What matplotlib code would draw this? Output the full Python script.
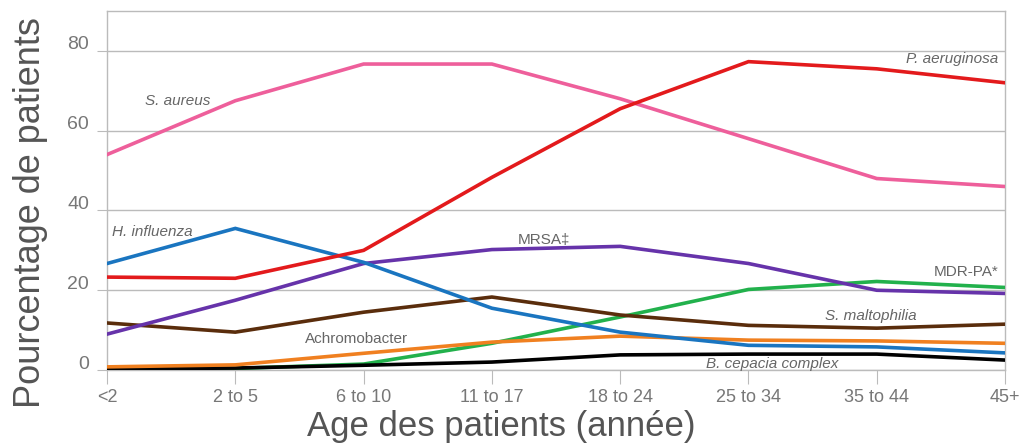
import matplotlib.pyplot as plt
import matplotlib.transforms as mtransforms

plt.rcParams['font.family'] = ['Liberation Sans', 'DejaVu Sans']

# Catégories d'âge
ages = ["<2", "2 to 5", "6 to 10", "11 to 17", "18 to 24", "25 to 34", "35 to 44", "45+"]

# Pourcentages
s_aureus = [54, 67.5, 76.7, 76.7, 68, 58, 48, 46]
p_aeruginosa = [23.3, 23, 30, 48.3, 65.5, 77.3, 75.5, 72]
h_influenza = [26.7, 35.5, 27, 15.5, 9.5, 6.2, 5.8, 4.3]
mrsa = [9, 17.5, 26.7, 30.2, 31, 26.7, 20, 19.2]
mdr_pa = [0.2, 0.4, 1.5, 6.7, 13.3, 20.2, 22.2, 20.7]
s_maltophilia = [11.8, 9.5, 14.5, 18.3, 13.8, 11.2, 10.5, 11.5]
achromobacter = [0.8, 1.3, 4.2, 7, 8.5, 7.5, 7.3, 6.7]
b_cepacia = [0.3, 0.5, 1.2, 2, 3.8, 4, 4, 2.5]

yticks = [0, 20, 40, 60, 80]

series = [
    (mdr_pa, "#22b14c"),
    (b_cepacia, "#000000"),
    (achromobacter, "#f08020"),
    (s_maltophilia, "#5a2d0c"),
    (mrsa, "#6633aa"),
    (h_influenza, "#1a75c0"),
    (s_aureus, "#ee5f9b"),
    (p_aeruginosa, "#e31a1c"),
]

fig = plt.figure(figsize=(10.24, 4.48), dpi=100)
ax = fig.add_axes([0.1045, 0.174, 0.877, 0.8015])

x = list(range(len(ages)))
for values, color in series:
    ax.plot(x, values, color=color, linewidth=2.6, solid_joinstyle='miter', zorder=3)

ax.set_xlim(0, len(ages) - 1)
ax.set_ylim(0, 90)

# Grille et axes
ax.set_yticks(yticks)
ax.set_yticklabels([str(v) for v in yticks])
ax.grid(axis='y', color='#bbbbbb', linewidth=1, zorder=1)
for side in ['left', 'right', 'top', 'bottom']:
    ax.spines[side].set_color('#bbbbbb')
    ax.spines[side].set_linewidth(1)
ax.tick_params(axis='y', length=7, color='#bbbbbb', labelsize=14, labelcolor='#777777', pad=6)
ax.tick_params(axis='x', length=10, color='#bbbbbb', labelsize=13, labelcolor='#777777', pad=4)
ax.set_xticks(x)
ax.set_xticklabels(ages)

offset = mtransforms.ScaledTranslation(0, 8 / 100, fig.dpi_scale_trans)
for lab in ax.get_yticklabels():
    lab.set_transform(lab.get_transform() + offset)

ax.set_xlabel("Age des patients (année)", fontsize=25, color='#555555')
ax.xaxis.set_label_coords(0.439, -0.112)
ax.set_ylabel("Pourcentage de patients", fontsize=26, color='#555555')
ax.yaxis.set_label_coords(-0.066, 0.439)

# Étiquettes des séries
lab_color = '#666666'
ax.text(0.3, 67.5, "S. aureus", style='italic', fontsize=11, color=lab_color, va='center')
ax.text(0.04, 34.5, "H. influenza", style='italic', fontsize=11, color=lab_color, va='center')
ax.text(3.2, 32.5, "MRSA‡", fontsize=11, color=lab_color, va='center')
ax.text(6.95, 78, "P. aeruginosa", style='italic', fontsize=11, color=lab_color, va='center', ha='right')
ax.text(6.95, 24.5, "MDR-PA*", fontsize=11, color=lab_color, va='center', ha='right')
ax.text(5.95, 13.5, "S. maltophilia", style='italic', fontsize=11, color=lab_color, va='center', ha='center')
ax.text(1.54, 7.8, "Achromobacter", fontsize=11, color=lab_color, va='center')
ax.text(4.67, 1.4, "B. cepacia complex", style='italic', fontsize=11, color=lab_color, va='center')

fig.savefig("out.png", dpi=100)
